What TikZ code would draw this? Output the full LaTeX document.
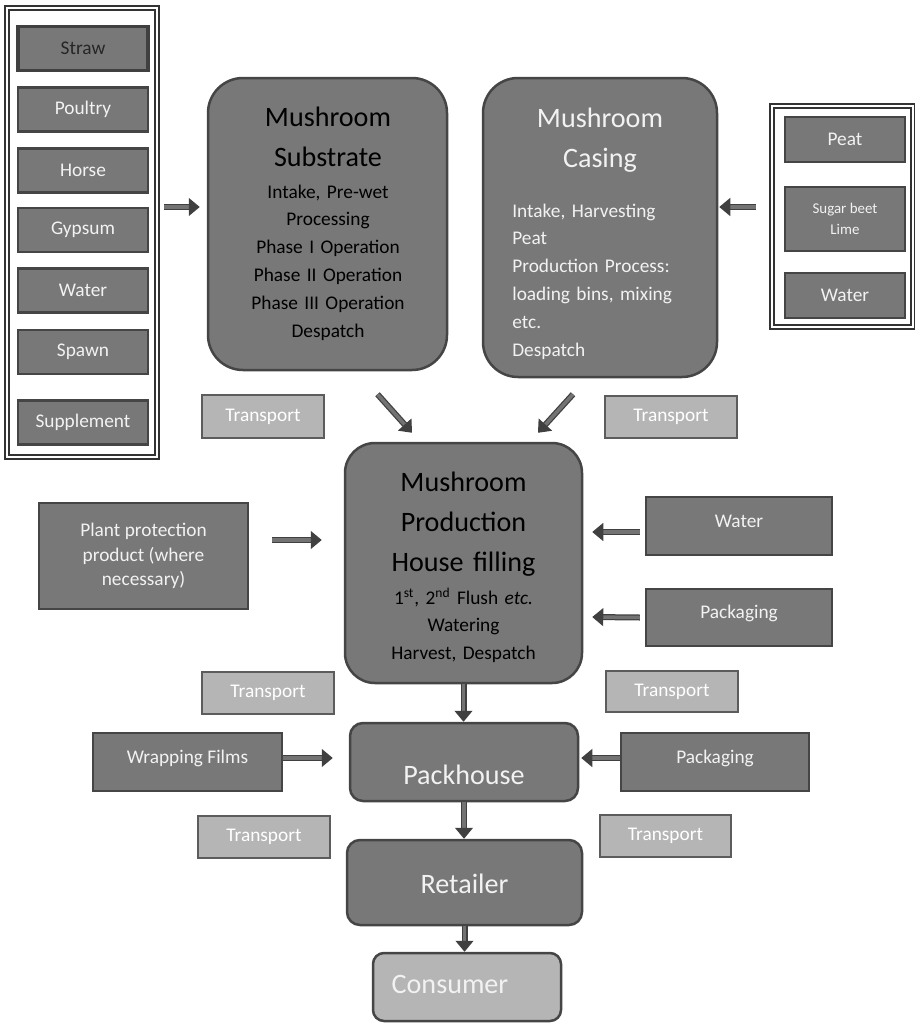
\documentclass[tikz,border=0pt]{standalone}
\usepackage{fontspec}
\setmainfont{Carlito}
\usetikzlibrary{arrows.meta}

\definecolor{boxfill}{gray}{0.47}
\definecolor{boxedge}{gray}{0.27}
\definecolor{lightfill}{gray}{0.71}
\definecolor{lightedge}{gray}{0.36}
\definecolor{arrowfill}{gray}{0.45}
\definecolor{arrowedge}{gray}{0.25}
\definecolor{lighttext}{gray}{0.95}

\begin{document}
\begin{tikzpicture}[
  x=0.2mm, y=-0.2mm,
  every node/.append style={inner sep=0pt},
  holderbox/.style={draw=black!80, double=white, double distance=0.45mm, line width=0.35mm},
  itembox/.style={draw=boxedge, line width=0.45mm, fill=boxfill, text=lighttext, font=\fontsize{11}{14}\selectfont, align=center},
  srcitem/.style={itembox, minimum width=26mm, minimum height=8.8mm},
  uptext/.style={text height=2.4mm, text depth=2mm},
  transportbox/.style={draw=lightedge, line width=0.45mm, fill=lightfill, text=white, font=\fontsize{11}{14}\selectfont, minimum height=8.5mm},
  stagebox/.style={draw=boxedge, line width=0.5mm, fill=boxfill},
  headtext/.style={font=\fontsize{16}{22.8}\selectfont, text width=44mm, align=center, anchor=base},
  bodytext/.style={font=\fontsize{11}{15.9}\selectfont, text width=44mm, align=center, anchor=base},
  flow/.style={draw=arrowedge, double=arrowfill, double distance=0.7mm, line width=0.25mm, -{Triangle[length=2.2mm,width=3.6mm]}}
]
  \useasboundingbox (0,0) rectangle (915,1023);

  % substrate inputs
  \node[holderbox, minimum width=30mm, minimum height=89.8mm] (subinputs) at (82,232.5) {};
  \node[srcitem, text=black!85, line width=0.7mm, draw=black!75] (straw) at (83,48.5) {Straw};
  \node[srcitem] (poultry) at (83,109.5) {Poultry};
  \node[srcitem] (horse) at (83,170.5) {Horse};
  \node[srcitem] (gypsum) at (83,230) {Gypsum};
  \node[srcitem] (subwater) at (83,290.5) {Water};
  \node[srcitem] (spawn) at (83,352) {Spawn};
  \node[srcitem] (supplement) at (83,422.5) {Supplement};

  % casing inputs
  \node[holderbox, minimum width=28.2mm, minimum height=44.2mm] (casinputs) at (842.5,216.5) {};
  \node[itembox, minimum width=24mm, minimum height=9mm] (peat) at (845,139.5) {Peat};
  \node[itembox, minimum width=24mm, minimum height=12.8mm, font=\fontsize{8.5}{12}\selectfont] (beet) at (845,219) {Sugar beet\\Lime};
  \node[itembox, minimum width=24mm, minimum height=9mm] (caswater) at (845,295.5) {Water};

  % substrate and casing
  \node[stagebox, rounded corners=7mm, minimum width=47.8mm, minimum height=58.4mm] (substrate) at (327.5,224) {};
  \node[headtext] (subtitle) at (328,126) {Mushroom\\Substrate};
  \node[bodytext] (substeps) at (328,198) {Intake, Pre-wet\\Processing\\Phase I Operation\\Phase II Operation\\Phase III Operation\\Despatch};

  \node[stagebox, rounded corners=7mm, minimum width=46.8mm, minimum height=59.8mm] (casing) at (600,227.5) {};
  \node[headtext, text=lighttext] (castitle) at (600,127) {Mushroom\\Casing};
  \node[bodytext, text=lighttext, align=left, anchor=base west] (cassteps) at (512,217) {Intake, Harvesting\\Peat\\Production Process:\\loading bins, mixing\\etc.\\Despatch};

  \node[transportbox, minimum width=24.4mm] (trans1) at (263,416.5) {Transport};
  \node[transportbox, minimum width=26.4mm] (trans2) at (671,417) {Transport};

  % production
  \node[stagebox, rounded corners=6mm, minimum width=47.4mm, minimum height=48mm] (production) at (463.5,563) {};
  \node[headtext] (prodtitle) at (463.5,491) {Mushroom\\Production\\House filling};
  \node[bodytext] (prodsteps) at (463.5,604) {1\textsuperscript{st}, 2\textsuperscript{nd} Flush \textit{etc.}\\Watering\\Harvest, Despatch};

  \node[itembox, minimum width=41.8mm, minimum height=21.2mm] (plant) at (143.5,556) {Plant protection\\product (where\\necessary)};
  \node[itembox, uptext, minimum width=37.2mm, minimum height=11.6mm] (prodwater) at (739,526) {Water};
  \node[itembox, uptext, minimum width=37.2mm, minimum height=11.4mm] (prodpack) at (739,617.5) {Packaging};

  \node[transportbox, minimum width=26.4mm, minimum height=8.4mm] (trans3) at (268,693) {Transport};
  \node[transportbox, minimum width=26.4mm, minimum height=8.2mm] (trans4) at (672,691.5) {Transport};

  % packhouse
  \node[stagebox, rounded corners=2.6mm, minimum width=45.6mm, minimum height=15.6mm] (packhouse) at (464,762) {};
  \node[headtext, text=lighttext] (packtext) at (464,784) {Packhouse};
  \node[itembox, uptext, minimum width=37.8mm, minimum height=11.6mm] (wrapping) at (187.5,762) {Wrapping Films};
  \node[itembox, uptext, minimum width=37.6mm, minimum height=11.6mm] (packpack) at (715,762) {Packaging};

  \node[transportbox, minimum width=26.4mm, minimum height=8.4mm] (trans5) at (264,837) {Transport};
  \node[transportbox, minimum width=26.2mm, minimum height=8.4mm] (trans6) at (665.5,836) {Transport};

  % retailer and consumer
  \node[stagebox, rounded corners=2.6mm, minimum width=47mm, minimum height=17mm] (retailer) at (464.5,882.5) {};
  \node[headtext, text=lighttext] (rettext) at (464.5,893) {Retailer};
  \node[stagebox, fill=lightfill, rounded corners=2.2mm, minimum width=37.6mm, minimum height=13.6mm] (consumer) at (467,987) {};
  \node[headtext, text=lighttext] (context) at (450,993) {Consumer};

  % arrows
  \draw[flow] ([shift={(6,-25.5)}]subinputs.east) -- ([shift={(-7,-17)}]substrate.west);
  \draw[flow] ([shift={(-15,-9.5)}]casinputs.west) -- ([shift={(1,-20.5)}]casing.east);
  \draw[flow] ([shift={(50,23)}]substrate.south) -- ([shift={(-51.5,-9)}]production.north);
  \draw[flow] ([shift={(-27,16)}]casing.south) -- ([shift={(74.5,-9)}]production.north);
  \draw[flow] ([shift={(23,-16)}]plant.east) -- ([shift={(-22,-23)}]production.west);
  \draw[flow] ([shift={(-5,6)}]prodwater.west) -- ([shift={(9,-31)}]production.east);
  \draw[flow] ([shift={(-5,0)}]prodpack.west) -- ([shift={(9,54)}]production.east);
  \draw[flow] (production.south) -- (production.south |- packhouse.north);
  \draw[flow] ([shift={(0,-4)}]wrapping.east) -- ([shift={(-16,-4)}]packhouse.west);
  \draw[flow] ([shift={(0,-4)}]packpack.west) -- ([shift={(2,-4)}]packhouse.east);
  \draw[flow] (packhouse.south) -- (packhouse.south |- retailer.north);
  \draw[flow] (retailer.south) -- (retailer.south |- consumer.north);
\end{tikzpicture}
\end{document}
